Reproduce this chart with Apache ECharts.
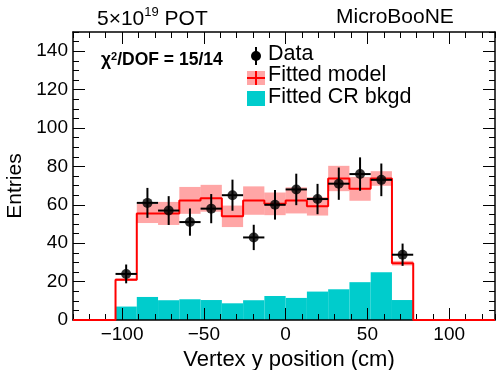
<!DOCTYPE html>
<html>
<head>
<meta charset="utf-8">
<script src="https://cdn.jsdelivr.net/npm/echarts@6/dist/echarts.min.js"></script>
<style>
  html, body { margin: 0; padding: 0; background: #fff; }
  #chart { width: 496px; height: 370px; }
</style>
</head>
<body>
<div id="chart"></div>
<script>
// bin edges (cm), 14 bins of 13 cm
const binEdges = [-104, -91, -78, -65, -52, -39, -26, -13, 0, 13, 26, 39, 52, 65, 78];
const dataCounts = [24, 61, 57, 51, 58, 65, 43, 60, 68, 63, 71, 76, 73, 34];
const dataErrors = [4.9, 7.8, 7.5, 7.1, 7.6, 8.1, 6.6, 7.7, 8.2, 7.9, 8.4, 8.7, 8.5, 5.8];
const modelValues = [21, 55.5, 55.5, 62.3, 63.4, 54, 62.2, 60.5, 62.3, 59.2, 73.7, 68.3, 73.7, 29.6];
const modelErrors = [0.7, 5, 6, 7, 7, 5.6, 7.4, 5.9, 6.8, 4.8, 6.6, 6.2, 3.8, 1.2];
const crBkgd = [7, 12, 10.3, 10.8, 10.4, 8.7, 10.3, 12.5, 11.5, 14.8, 16, 19.7, 24.9, 10.4];
const xMajorTicks = [-100, -50, 0, 50, 100];
const yMajorTicks = [0, 20, 40, 60, 80, 100, 120, 140];

const X_MIN = -130, X_MAX = 128, Y_MIN = 0, Y_MAX = 150;
const FONT = 'Liberation Sans, Arial, Helvetica, sans-serif';

const chart = echarts.init(document.getElementById('chart'), null, { renderer: 'canvas' });

const fmtNum = (v) => (v < 0 ? '\u2212' + Math.abs(v) : String(v));

// rect data: [lo, hi, bottom, top]
const crRects = crBkgd.map((v, i) => [binEdges[i], binEdges[i + 1], 0, v]);
const bandRects = modelValues.map((v, i) => [binEdges[i], binEdges[i + 1], v - modelErrors[i], v + modelErrors[i]]);

// step outline for the fitted model, zero outside the bins
const modelStep = [[X_MIN, 0], [binEdges[0], 0]];
modelValues.forEach((v, i) => {
  modelStep.push([binEdges[i], v]);
  modelStep.push([binEdges[i + 1], v]);
});
modelStep.push([binEdges[binEdges.length - 1], 0], [X_MAX, 0]);

const dataPoints = dataCounts.map((v, i) => [
  (binEdges[i] + binEdges[i + 1]) / 2, v, (binEdges[i + 1] - binEdges[i]) / 2, dataErrors[i],
]);

function rectRenderer(fill) {
  return (params, api) => {
    const p0 = api.coord([api.value(0), api.value(3)]);
    const p1 = api.coord([api.value(1), api.value(2)]);
    return {
      type: 'rect',
      shape: { x: p0[0], y: p0[1], width: p1[0] - p0[0], height: p1[1] - p0[1] },
      style: { fill: fill },
    };
  };
}

function errorBarRenderer(params, api) {
  const x = api.value(0), y = api.value(1), dx = api.value(2), dy = api.value(3);
  const l = api.coord([x - dx, y]), r = api.coord([x + dx, y]);
  const t = api.coord([x, y + dy]), b = api.coord([x, y - dy]);
  const st = { stroke: '#000', lineWidth: 2 };
  return {
    type: 'group',
    children: [
      { type: 'line', shape: { x1: l[0], y1: l[1], x2: r[0], y2: r[1] }, style: st },
      { type: 'line', shape: { x1: t[0], y1: t[1], x2: b[0], y2: b[1] }, style: st },
    ],
  };
}

const axisLineStyle = { color: '#000', width: 1.5 };
const labelStyle = { color: '#000', fontFamily: FONT, fontSize: 19 };

function xAxisCfg(position, major, withLine) {
  const cfg = {
    type: 'value', position: position, min: X_MIN, max: X_MAX,
    axisLine: { show: withLine, onZero: false, lineStyle: axisLineStyle },
    splitLine: { show: false },
    z: withLine ? 1 : 8,
  };
  if (major) {
    cfg.axisTick = { inside: true, length: 12, customValues: xMajorTicks, lineStyle: { color: '#000', width: 1 } };
    cfg.axisLabel = position === 'bottom'
      ? Object.assign({ customValues: xMajorTicks, margin: 5, formatter: fmtNum }, labelStyle)
      : { show: false };
  } else {
    cfg.interval = 10;
    cfg.axisTick = { inside: true, length: 6, lineStyle: { color: '#000', width: 1 } };
    cfg.axisLabel = { show: false };
  }
  return cfg;
}

function yAxisCfg(position, major, withLine) {
  const cfg = {
    type: 'value', position: position, min: Y_MIN, max: Y_MAX,
    axisLine: { show: withLine, onZero: false, lineStyle: axisLineStyle },
    splitLine: { show: false },
    z: withLine ? 1 : 8,
  };
  if (major) {
    cfg.axisTick = { inside: true, length: 12, customValues: yMajorTicks, lineStyle: { color: '#000', width: 1 } };
    cfg.axisLabel = position === 'left'
      ? Object.assign({ customValues: yMajorTicks, margin: 5 }, labelStyle)
      : { show: false };
  } else {
    cfg.interval = 5;
    cfg.axisTick = { inside: true, length: 6, lineStyle: { color: '#000', width: 1 } };
    cfg.axisLabel = { show: false };
  }
  return cfg;
}

const xAxes = [
  xAxisCfg('bottom', false, true),
  xAxisCfg('bottom', true, false),
  xAxisCfg('top', false, true),
  xAxisCfg('top', true, false),
];
xAxes[1].name = 'Vertex y position (cm)';
xAxes[1].nameLocation = 'middle';
xAxes[1].nameGap = 25;
xAxes[1].nameTextStyle = { color: '#000', fontFamily: FONT, fontSize: 22, padding: [0, 0, 0, 10] };

const yAxes = [
  yAxisCfg('left', false, true),
  yAxisCfg('left', true, false),
  yAxisCfg('right', false, true),
  yAxisCfg('right', true, false),
];
yAxes[1].name = 'Entries';
yAxes[1].nameLocation = 'middle';
yAxes[1].nameGap = 37;
yAxes[1].nameTextStyle = { color: '#000', fontFamily: FONT, fontSize: 21, padding: [0, 20, 0, 0] };

const textStyle = (size, weight) => ({ fontFamily: FONT, fontSize: size, fontWeight: weight || 'normal', fill: '#000' });

const legendX = 256;
const graphic = [
  {
    type: 'text', left: 97, top: 6,
    style: {
      text: '{n|5\u00d710}{s|19}{n| POT}',
      rich: {
        n: { fontFamily: FONT, fontSize: 21, color: '#000', verticalAlign: 'bottom', lineHeight: 24 },
        s: { fontFamily: FONT, fontSize: 13, color: '#000', verticalAlign: 'top', lineHeight: 24, padding: [0, 0, 10, 0] },
      },
    },
  },
  { type: 'text', left: 336, top: 7, style: Object.assign({ text: 'MicroBooNE' }, textStyle(21)) },
  {
    type: 'text', left: 101, top: 51,
    style: {
      text: '{c|\u03c7}{s|2}{n|/DOF = 15/14}',
      rich: {
        c: { fontFamily: FONT, fontSize: 17.5, fontWeight: 'bold', color: '#000', lineHeight: 20 },
        s: { fontFamily: FONT, fontSize: 11, fontWeight: 'bold', color: '#000', lineHeight: 20, padding: [0, 0, 8, 0] },
        n: { fontFamily: FONT, fontSize: 17.5, fontWeight: 'bold', color: '#000', lineHeight: 20 },
      },
    },
  },
  // legend: Data
  { type: 'line', shape: { x1: legendX, y1: 47, x2: legendX, y2: 65 }, style: { stroke: '#000', lineWidth: 2 } },
  { type: 'circle', shape: { cx: legendX, cy: 56, r: 5 }, style: { fill: '#000' } },
  { type: 'text', left: 268, top: 43, style: Object.assign({ text: 'Data' }, textStyle(21.5)) },
  // legend: Fitted model
  { type: 'rect', shape: { x: 247, y: 71, width: 18, height: 14 }, style: { fill: 'rgba(255,0,0,0.35)' } },
  { type: 'line', shape: { x1: 247, y1: 78, x2: 265, y2: 78 }, style: { stroke: '#ff0000', lineWidth: 2 } },
  { type: 'line', shape: { x1: 256, y1: 71, x2: 256, y2: 85 }, style: { stroke: '#ff0000', lineWidth: 2 } },
  { type: 'text', left: 268, top: 64, style: Object.assign({ text: 'Fitted model' }, textStyle(21.5)) },
  // legend: Fitted CR bkgd
  { type: 'rect', shape: { x: 247, y: 91, width: 18, height: 15 }, style: { fill: '#00cccc' } },
  { type: 'text', left: 268, top: 86, style: Object.assign({ text: 'Fitted CR bkgd' }, textStyle(21.5)) },
];

const option = {
  animation: false,
  backgroundColor: '#fff',
  grid: { left: 73, right: 1, top: 32, bottom: 50, outerBoundsMode: 'none' },
  xAxis: xAxes,
  yAxis: yAxes,
  graphic: graphic,
  series: [
    {
      name: 'Fitted CR bkgd', type: 'custom', xAxisIndex: 0, yAxisIndex: 0, z: 1,
      renderItem: rectRenderer('#00cccc'), data: crRects, clip: true,
    },
    {
      name: 'Model uncertainty', type: 'custom', xAxisIndex: 0, yAxisIndex: 0, z: 2,
      renderItem: rectRenderer('rgba(255,0,0,0.35)'), data: bandRects, clip: true,
    },
    {
      name: 'Fitted model', type: 'line', xAxisIndex: 0, yAxisIndex: 0, z: 11,
      data: modelStep, showSymbol: false, symbol: 'none',
      lineStyle: { color: '#ff0000', width: 2 },
    },
    {
      name: 'Data errors', type: 'custom', xAxisIndex: 0, yAxisIndex: 0, z: 12,
      renderItem: errorBarRenderer, data: dataPoints,
    },
    {
      name: 'Data', type: 'scatter', xAxisIndex: 0, yAxisIndex: 0, z: 13,
      data: dataPoints.map(d => [d[0], d[1]]),
      symbol: 'circle', symbolSize: 10, itemStyle: { color: '#000' },
    },
  ],
};

chart.setOption(option);
</script>
</body>
</html>
